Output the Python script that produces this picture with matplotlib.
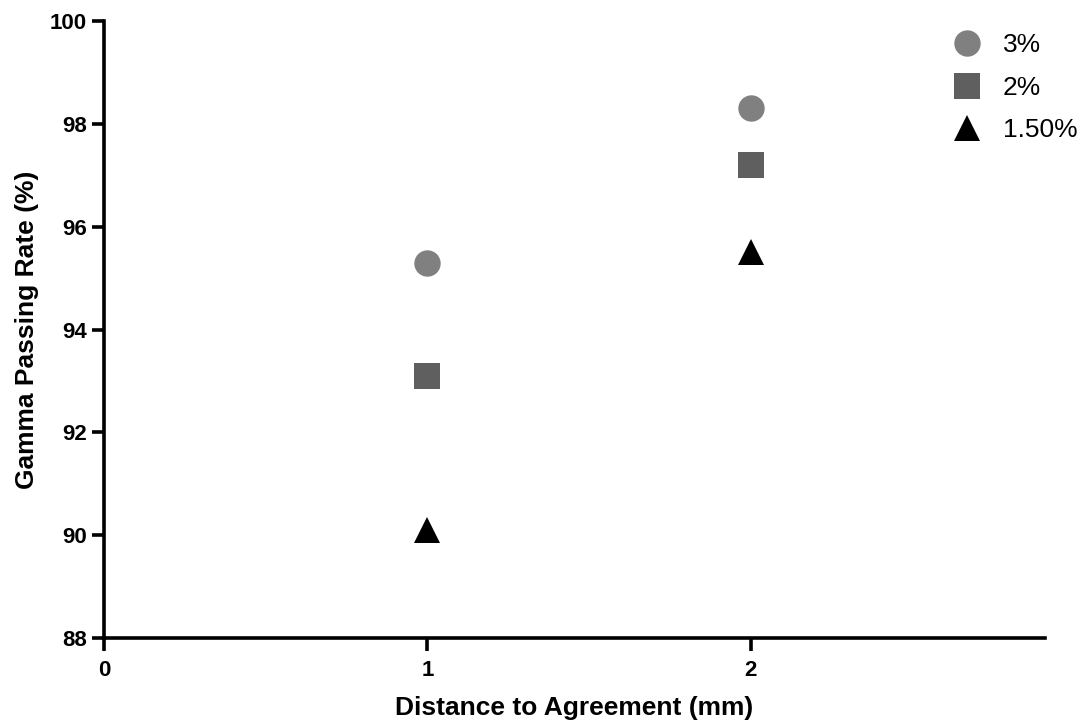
import matplotlib
matplotlib.use("Agg")
import matplotlib.pyplot as plt

plt.rcParams['font.family'] = ['Liberation Sans', 'DejaVu Sans']

# gamma passing rates per distance-to-agreement criterion
dta = [1, 2]
rate_3pct = [95.3, 98.3]
rate_2pct = [93.1, 97.2]
rate_15pct = [90.1, 95.5]
series_labels = ["3%", "2%", "1.50%"]

fig = plt.figure(figsize=(10.87, 7.25), dpi=100)
ax = fig.add_axes([0.0957, 0.12, 0.8657, 0.851])

ax.plot(dta, rate_3pct, "o", color="#808080", markersize=19, mew=0, label=series_labels[0])
ax.plot(dta, rate_2pct, "s", color="#5f5f5f", markersize=19, mew=0, label=series_labels[1])
ax.plot(dta, rate_15pct, "^", color="black", markersize=19, mew=0, label=series_labels[2])

ax.set_xlim(0, 2.91)
ax.set_ylim(88, 100)
ax.set_xticks([0, 1, 2])
ax.set_yticks(range(88, 101, 2))

for side in ["top", "right"]:
    ax.spines[side].set_visible(False)
for side in ["left", "bottom"]:
    ax.spines[side].set_linewidth(2.6)
ax.tick_params(width=2.6, length=9, labelsize=16, direction="out")
ax.tick_params(axis="x", pad=7)
for lbl in ax.get_xticklabels() + ax.get_yticklabels():
    lbl.set_fontweight("bold")

ax.set_xlabel("Distance to Agreement (mm)", fontsize=19, fontweight="bold", labelpad=11)
ax.set_ylabel("Gamma Passing Rate (%)", fontsize=19, fontweight="bold", labelpad=7.5)

ax.legend(loc="upper left", bbox_to_anchor=(0.889, 0.997), frameon=False, fontsize=19,
          handlelength=1.2, handletextpad=0.76, labelspacing=0.7, numpoints=1,
          borderaxespad=0.0)

fig.savefig("out.png", dpi=100)
